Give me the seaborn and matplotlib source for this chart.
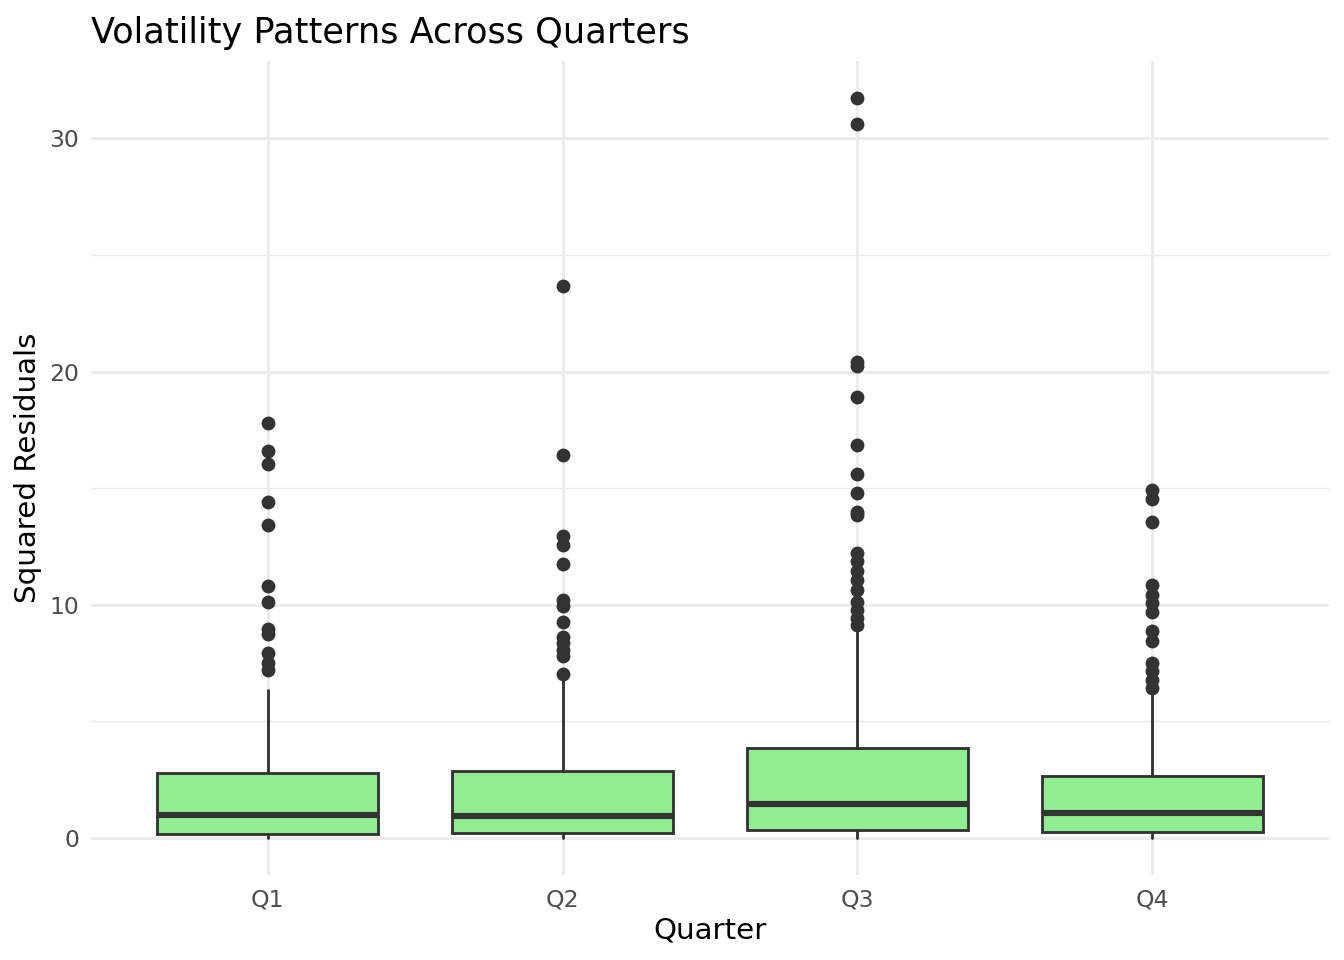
import matplotlib
matplotlib.use("Agg")
import matplotlib.pyplot as plt
import seaborn as sns
import pandas as pd

# ---- data ----
quarters = ["Q1", "Q2", "Q3", "Q4"]
whisker_low = [0.0, 0.0, 0.0, 0.0]
box_q1 = [0.19, 0.20, 0.34, 0.24]
box_median = [1.00, 0.94, 1.46, 1.06]
box_q3 = [2.77, 2.86, 3.84, 2.67]
whisker_high = [6.35, 6.80, 9.00, 6.24]

outliers_q1 = [17.79, 16.59, 16.02, 14.40, 13.42, 10.82, 10.10, 8.98, 8.73, 7.92, 7.52, 7.21]
outliers_q2 = [23.68, 16.42, 12.93, 12.55, 11.77, 10.20, 9.95, 9.27, 8.62, 8.35, 8.05, 7.80, 7.03]
outliers_q3 = [31.72, 30.60, 20.39, 20.26, 18.93, 16.86, 15.61, 14.81, 13.96, 13.85,
               12.24, 11.86, 11.43, 11.07, 10.64, 10.14, 9.79, 9.43, 9.12]
outliers_q4 = [14.93, 14.53, 13.57, 10.86, 10.43, 10.07, 9.71, 8.86, 8.43, 7.50, 7.14, 6.79, 6.43]

y_ticks = [0, 10, 20, 30]
y_minor = [5, 15, 25]

# ---- styling ----
sns.set_theme(style="white")
plt.rcParams['font.family'] = ['DejaVu Sans']

fig = plt.figure(figsize=(7, 5), dpi=192)
ax = fig.add_axes([91 / 1344, 1 - 875 / 960, (1329 - 91) / 1344, (875 - 61.4) / 960])

edge = "#333333"
stats = []
for i, q in enumerate(quarters):
    stats.append(dict(label=q, whislo=whisker_low[i], q1=box_q1[i], med=box_median[i],
                      q3=box_q3[i], whishi=whisker_high[i], fliers=[]))

ax.bxp(stats, positions=range(len(quarters)), widths=0.75, showfliers=False,
       patch_artist=True, showcaps=False,
       boxprops=dict(facecolor="#90EE90", edgecolor=edge, linewidth=1.07),
       whiskerprops=dict(color=edge, linewidth=1.07),
       medianprops=dict(color=edge, linewidth=2.3, solid_capstyle="butt"),
       zorder=3)

out_df = pd.DataFrame({
    "Quarter": (["Q1"] * len(outliers_q1) + ["Q2"] * len(outliers_q2)
                + ["Q3"] * len(outliers_q3) + ["Q4"] * len(outliers_q4)),
    "value": outliers_q1 + outliers_q2 + outliers_q3 + outliers_q4,
})
sns.stripplot(data=out_df, x="Quarter", y="value", order=quarters, jitter=False,
              color=edge, size=5.2, linewidth=0, ax=ax, zorder=4)

ax.set_xlim(-0.6, 3.6)
ax.set_ylim(-1.586, 33.3)
ax.set_yticks(y_ticks)
ax.set_yticks(y_minor, minor=True)
ax.set_xticks(range(len(quarters)))
ax.set_xticklabels(quarters)

ax.grid(which="major", axis="both", color="#EBEBEB", linewidth=1.07, zorder=0)
ax.grid(which="minor", axis="y", color="#EBEBEB", linewidth=0.55, zorder=0)
ax.set_axisbelow(True)
for s in ax.spines.values():
    s.set_visible(False)

ax.tick_params(axis="both", which="both", length=0, labelsize=8.8, labelcolor="#4D4D4D")
ax.tick_params(axis="y", pad=4.5)
ax.tick_params(axis="x", pad=5)

ax.set_xlabel("Quarter", fontsize=11, color="black", labelpad=2)
ax.set_ylabel("Squared Residuals", fontsize=11, color="black", labelpad=2.5)
ax.set_title("Volatility Patterns Across Quarters", loc="left", fontsize=13.2,
             color="black", pad=7)

fig.savefig("out.png", dpi=192, facecolor="white")
